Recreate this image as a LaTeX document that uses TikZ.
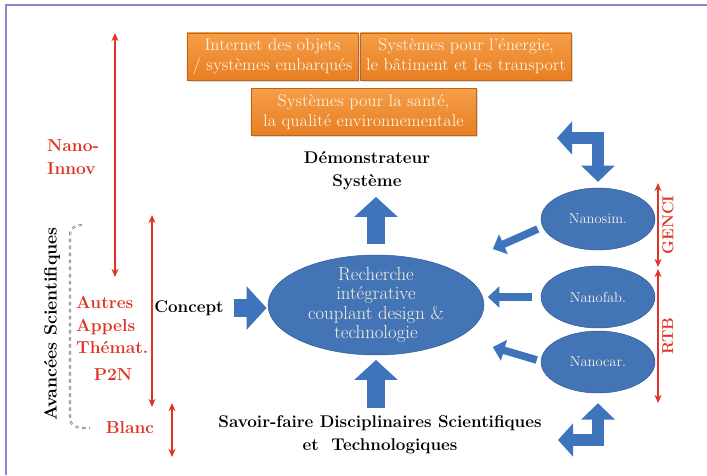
\documentclass[tikz,border=0pt]{standalone}
\usetikzlibrary{positioning,shapes.geometric,arrows.meta,shadows}

\definecolor{boxorange}{RGB}{232,126,34}
\definecolor{boxorangetop}{RGB}{245,158,72}
\definecolor{boxedge}{RGB}{192,100,26}
\definecolor{ellblue}{RGB}{66,116,182}
\definecolor{elledge}{RGB}{44,88,146}
\definecolor{arrblue}{RGB}{62,116,188}
\definecolor{labred}{RGB}{222,52,36}
\definecolor{framepurple}{RGB}{140,132,204}
\definecolor{paletext}{RGB}{252,240,222}

\begin{document}
\begin{tikzpicture}[
        x=0.03cm, y=-0.03cm,
        appbox/.style={draw=boxedge, top color=boxorangetop, bottom color=boxorange, align=center, text=paletext, minimum height=1.41cm, inner sep=1pt, font=\fontsize{14.5}{17}\selectfont, drop shadow={opacity=0.3, shadow xshift=1.5pt, shadow yshift=-1.5pt}},
        nano/.style={ellipse, draw=elledge, fill=ellblue, text=paletext, align=center, inner sep=0pt},
        blacktag/.style={align=center, font=\fontsize{14.5}{20}\selectfont\bfseries},
        redtag/.style={align=left, text=labred, inner sep=0pt, font=\fontsize{14.8}{19}\selectfont\bfseries},
        bigarrow/.style={draw=arrblue, line width=16pt, -{Triangle[width=36pt,length=17pt]}},
        midarrow/.style={draw=arrblue, line width=6.5pt, -{Triangle[width=18pt,length=10pt]}},
        bentarrow/.style={draw=arrblue, line width=11pt, {Triangle[width=28pt,length=13pt]}-{Triangle[width=28pt,length=14pt]}},
        redarrow/.style={draw=labred, line width=1.2pt, {Stealth[length=7pt,width=6pt]}-{Stealth[length=7pt,width=6pt]}}
      ]

      \useasboundingbox (0,0) rectangle (707,475);
      \draw[framepurple, line width=1pt] (6,475) -- (6,5) -- (707,5);

      % application fields
      \node (iot) [appbox, minimum width=5.13cm] at (272.5,56.5) {Internet des objets\\/ systèmes embarqués};
      \node (ener) [appbox, minimum width=6.33cm, right=0.06cm of iot] {Systèmes pour l'énergie,\\le bâtiment et les transport};
      \node (sante) [appbox, minimum width=6.75cm] at (363.5,112) {Systèmes pour la santé,\\la qualité environnementale};

      \node (demo) [blacktag] at (367,171) {Démonstrateur\\Système};
      \node (rech) [nano, minimum width=6.48cm, minimum height=3cm, inner sep=-3pt, font=\fontsize{16}{16.5}\selectfont] at (376,305) {Recherche\\intégrative\\couplant design \&\\technologie};
      \node (concept) [blacktag] at (189,308) {Concept};
      \node (savoir) [blacktag] at (380,435) {Savoir-faire Disciplinaires Scientifiques\\et~~Technologiques};

      % platforms
      \node (sim) [nano, minimum width=3.42cm, minimum height=1.86cm, font=\fontsize{12.4}{14}\selectfont] at (598,219) {Nanosim.};
      \node (fab) [nano, minimum width=3.42cm, minimum height=1.86cm, font=\fontsize{12.4}{14}\selectfont] at (598,297) {Nanofab.};
      \node (car) [nano, minimum width=3.42cm, minimum height=1.86cm, font=\fontsize{12.4}{14}\selectfont] at (598,362) {Nanocar.};

      \draw[bigarrow, shorten <=9pt, shorten >=2pt] (rech.north) -- (rech.north |- demo.south);
      \draw[bigarrow, shorten <=5pt, shorten >=1pt] (concept.east) -- (concept.east -| rech.west);
      \draw[bigarrow, shorten <=3pt, shorten >=4pt] (rech.south |- savoir.north) -- (rech.south);

      \draw[midarrow] ([shift={(-3,10)}]sim.west) -- ++(-45,20);
      \draw[midarrow] ([shift={(-9,0)}]fab.west) -- ++(-44,0);
      \draw[midarrow] ([shift={(-4,-2)}]car.west) -- ++(-44,-13);

      \coordinate (simfeed) at (557,138);
      \coordinate (carfeed) at (558,440);
      \draw[bentarrow, shorten >=5pt] (simfeed) -| (sim.north);
      \draw[bentarrow, shorten >=8.5pt] (carfeed) -| (car.south);

      % programmes
      \node (innov) [redtag, anchor=west] at (47,157) {Nano-\\Innov};
      \node (autres) [redtag, anchor=west] at (76,325) {Autres\\Appels\\Thémat.};
      \node (p2n) [redtag] at (113,375) {P2N};
      \node (blanc) [redtag] at (130,428) {Blanc};
      \node (avanc) [blacktag, rotate=90, font=\fontsize{15.2}{18}\selectfont\bfseries] at (52,324) {Avancées Scientifiques};
      \draw[black!55, dashed, double, line width=0.6pt] (82,225) .. controls (76,225) and (70,228) .. (70,235) -- (70,418) .. controls (70,426) and (78,429) .. (90,428);

      \coordinate (ni1) at (115,33);
      \coordinate (ni2) at (115,277);
      \coordinate (au1) at (152,215);
      \coordinate (au2) at (152,407);
      \coordinate (bl1) at (172,403);
      \coordinate (bl2) at (172,457);
      \coordinate (ge1) at (658,183);
      \coordinate (ge2) at (658,267);
      \coordinate (rt1) at (658,269);
      \coordinate (rt2) at (658,403);
      \draw[redarrow] (ni1) -- (ni2);
      \draw[redarrow] (au1) -- (au2);
      \draw[redarrow] (bl1) -- (bl2);
      \draw[redarrow] (ge1) -- node (genci) [redtag, rotate=90, anchor=north, inner sep=3pt, font=\fontsize{13.5}{16}\selectfont\bfseries] {GENCI} (ge2);
      \draw[redarrow] (rt1) -- node (rtb) [redtag, rotate=90, anchor=north, inner sep=3pt, font=\fontsize{13.5}{16}\selectfont\bfseries] {RTB} (rt2);

    \end{tikzpicture}
\end{document}
